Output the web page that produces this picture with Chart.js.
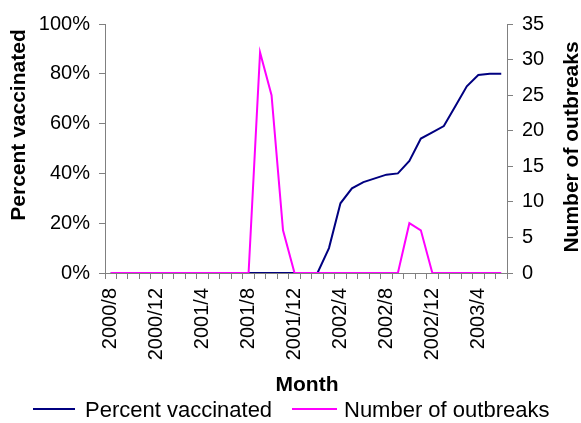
<!DOCTYPE html>
<html>
<head>
<meta charset="utf-8">
<script src="https://cdn.jsdelivr.net/npm/chart.js@4/dist/chart.umd.min.js"></script>
<style>
  html, body { margin: 0; padding: 0; background: #fff; }
  #wrap { width: 581px; height: 423px; }
</style>
</head>
<body>
<div id="wrap"><canvas id="c" width="581" height="423"></canvas></div>
<script>
const months = ['2000/8','2000/9','2000/10','2000/11','2000/12',
  '2001/1','2001/2','2001/3','2001/4','2001/5','2001/6','2001/7','2001/8','2001/9','2001/10','2001/11','2001/12',
  '2002/1','2002/2','2002/3','2002/4','2002/5','2002/6','2002/7','2002/8','2002/9','2002/10','2002/11','2002/12',
  '2003/1','2003/2','2003/3','2003/4','2003/5','2003/6'];
const shownTickLabels = ['2000/8','2000/12','2001/4','2001/8','2001/12','2002/4','2002/8','2002/12','2003/4'];
const percentVaccinated = [0,0,0,0,0,0,0,0,0,0,0,0,0,0,0,0,0,0,0,
  10,28,34,36.5,38,39.5,40,45,54,56.5,59,67,75,79.5,80,80];
const numberOfOutbreaks = [0,0,0,0,0,0,0,0,0,0,0,0,0,31,25,6,0,0,0,
  0,0,0,0,0,0,0,7,6,0,0,0,0,0,0,0];
const seriesNames = ['Percent vaccinated','Number of outbreaks'];
const xTitle = 'Month';
const yTitle = 'Percent vaccinated';
const y2Title = 'Number of outbreaks';

const FONT = '"Liberation Sans", Arial, sans-serif';
Chart.defaults.font.family = FONT;
Chart.defaults.color = '#000';

const AXIS = '#808080';

const titlesPlugin = {
  id: 'titlesAndLegend',
  afterDraw(chart) {
    const ctx = chart.ctx;
    ctx.save();
    ctx.fillStyle = '#000';
    ctx.font = 'bold 21px ' + FONT;
    ctx.textAlign = 'center';
    ctx.textBaseline = 'alphabetic';
    ctx.fillText(xTitle, 307, 391);
    ctx.save(); ctx.translate(25, 125); ctx.rotate(-Math.PI / 2); ctx.fillText(yTitle, 0, 0); ctx.restore();
    ctx.save(); ctx.translate(578, 147); ctx.rotate(-Math.PI / 2); ctx.fillText(y2Title, 0, 0); ctx.restore();
    // legend
    ctx.font = '22px ' + FONT;
    ctx.textAlign = 'left';
    const items = [
      { x0: 33, x1: 75, tx: 85 },
      { x0: 292, x1: 337, tx: 344 }
    ];
    chart.data.datasets.forEach((ds, i) => {
      const it = items[i];
      ctx.strokeStyle = ds.borderColor;
      ctx.lineWidth = 2;
      ctx.beginPath(); ctx.moveTo(it.x0, 409); ctx.lineTo(it.x1, 409); ctx.stroke();
      ctx.fillStyle = '#000';
      ctx.fillText(ds.label, it.tx, 417);
    });
    ctx.restore();
  }
};

new Chart(document.getElementById('c'), {
  type: 'line',
  data: {
    labels: months,
    datasets: [
      { label: seriesNames[0], data: percentVaccinated, yAxisID: 'y', borderColor: '#000080', backgroundColor: '#000080',
        borderWidth: 2, pointRadius: 0, tension: 0, order: 1 },
      { label: seriesNames[1], data: numberOfOutbreaks, yAxisID: 'y2', borderColor: '#FF00FF', backgroundColor: '#FF00FF',
        borderWidth: 2, pointRadius: 0, tension: 0, order: 0 }
    ]
  },
  options: {
    responsive: false,
    animation: false,
    layout: { padding: { left: 0, right: 0, top: 24, bottom: 0 } },
    plugins: { legend: { display: false }, tooltip: { enabled: false } },
    scales: {
      x: {
        type: 'category',
        offset: true,
        grid: { offset: true, drawOnChartArea: false, drawTicks: true, tickLength: 6, color: AXIS, lineWidth: 1 },
        border: { color: AXIS, width: 1 },
        ticks: {
          autoSkip: false, minRotation: 90, maxRotation: 90, padding: 9,
          font: { size: 20 }, color: '#000',
          callback: function(v, i) { const l = months[i]; return shownTickLabels.includes(l) ? l : ''; }
        },
        afterFit(s) { s.height = 150; }
      },
      y: {
        position: 'left', min: 0, max: 100,
        grid: { drawOnChartArea: false, tickLength: 6, color: AXIS },
        border: { color: AXIS, width: 1 },
        ticks: { stepSize: 20, padding: 9, font: { size: 20 }, color: '#000', callback: v => v + '%' },
        afterFit(s) { s.width = 105; }
      },
      y2: {
        position: 'right', min: 0, max: 35,
        grid: { drawOnChartArea: false, tickLength: 6, color: AXIS },
        border: { color: AXIS, width: 1 },
        ticks: { stepSize: 5, padding: 9, font: { size: 20 }, color: '#000' },
        afterFit(s) { s.width = 74; }
      }
    }
  },
  plugins: [titlesPlugin]
});
</script>
</body>
</html>
